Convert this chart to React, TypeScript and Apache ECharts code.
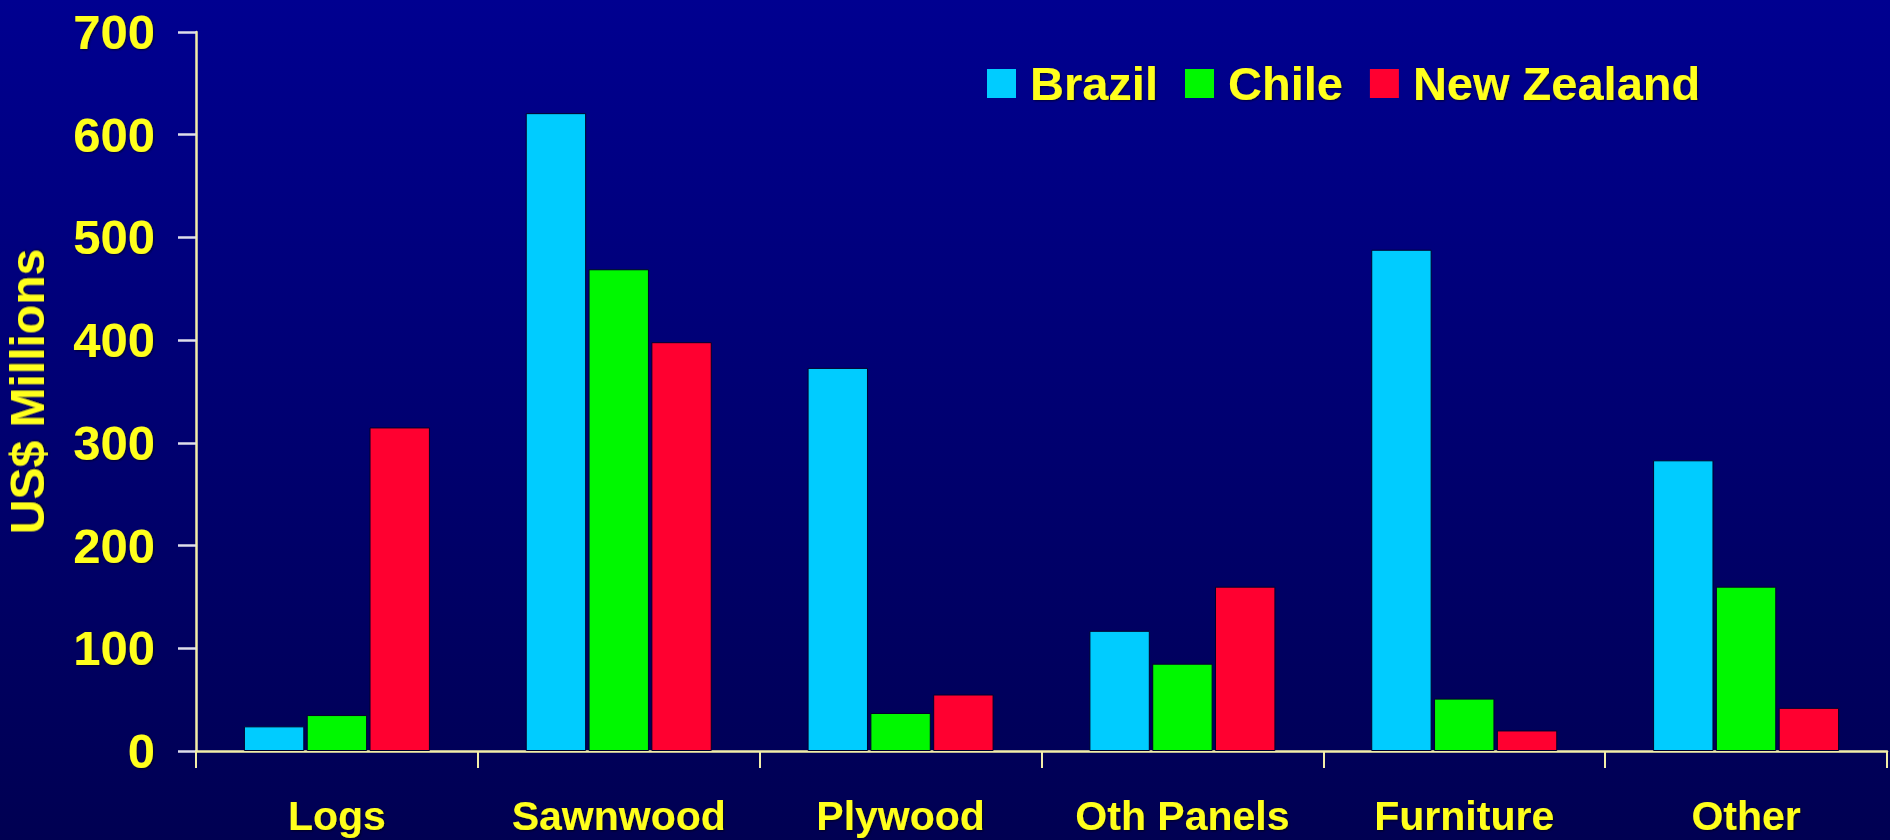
import React, { useEffect, useRef } from "react";
import * as echarts from "echarts";

// Forest product exports by product group, US$ millions
const categories = ["Logs", "Sawnwood", "Plywood", "Oth Panels", "Furniture", "Other"];
const brazil = [24, 621, 373, 117, 488, 283];
const chile = [35, 469, 37, 85, 51, 160];
const newZealand = [315, 398, 55, 160, 20, 42];
const yTicks = { min: 0, max: 700, interval: 100 };

const FONT = "'Liberation Sans', Arial, sans-serif";
const YELLOW = "#ffff1e";
const GRID_WHITE = "#dedeea";
const AXIS_YELLOW = "#f2eea8";

const shadowText = {
  textShadowColor: "rgba(0,0,0,0.6)",
  textShadowBlur: 2,
  textShadowOffsetX: 1,
  textShadowOffsetY: 1,
};

export default function App() {
  const ref = useRef<HTMLDivElement>(null);

  useEffect(() => {
    document.body.style.margin = "0";
    if (!ref.current) return;
    const chart = echarts.init(ref.current, null, { renderer: "svg" });

    const barStyle = (color: string) => ({
      color,
      borderColor: "#00002a",
      borderWidth: 1,
    });

    chart.setOption({
      animation: false,
      backgroundColor: {
        type: "linear",
        x: 0,
        y: 0,
        x2: 0,
        y2: 1,
        colorStops: [
          { offset: 0, color: "#000090" },
          { offset: 1, color: "#000052" },
        ],
      },
      textStyle: { fontFamily: FONT },
      legend: {
        left: 987,
        top: 60,
        padding: 0,
        itemWidth: 29,
        itemHeight: 29,
        itemGap: 27,
        icon: "rect",
        itemStyle: { borderWidth: 0 },
        textStyle: {
          color: YELLOW,
          fontSize: 47,
          fontWeight: "bold",
          fontFamily: FONT,
          padding: [0, 0, 0, 9],
          ...shadowText,
        },
        data: ["Brazil", "Chile", "New Zealand"],
      },
      grid: {
        left: 196,
        right: 3,
        top: 32,
        bottom: 89,
        containLabel: false,
        outerBoundsMode: "none",
      },
      xAxis: {
        type: "category",
        data: categories,
        boundaryGap: true,
        axisLine: { lineStyle: { color: AXIS_YELLOW, width: 2.5 } },
        axisTick: {
          show: true,
          interval: 0,
          length: 17,
          lineStyle: { color: AXIS_YELLOW, width: 2 },
        },
        axisLabel: {
          interval: 0,
          margin: 44,
          color: YELLOW,
          fontSize: 41,
          fontWeight: "bold",
          fontFamily: FONT,
          ...shadowText,
        },
        splitLine: { show: false },
      },
      yAxis: {
        type: "value",
        min: yTicks.min,
        max: yTicks.max,
        interval: yTicks.interval,
        name: "US$ Millions",
        nameLocation: "middle",
        nameGap: 145,
        nameRotate: 90,
        nameTextStyle: {
          color: YELLOW,
          fontSize: 48,
          fontWeight: "bold",
          fontFamily: FONT,
          ...shadowText,
        },
        axisLine: { show: true, lineStyle: { color: AXIS_YELLOW, width: 2.5 } },
        axisTick: {
          show: true,
          length: 18,
          lineStyle: { color: GRID_WHITE, width: 2.5 },
        },
        axisLabel: {
          margin: 41,
          color: YELLOW,
          fontSize: 49,
          fontWeight: "bold",
          fontFamily: FONT,
          ...shadowText,
        },
        splitLine: {
          show: true,
          lineStyle: {
            color: GRID_WHITE,
            width: 2.5,
            shadowColor: "rgba(0,0,0,0.7)",
            shadowBlur: 2,
            shadowOffsetY: 1,
          },
        },
      },
      series: [
        {
          name: "Brazil",
          type: "bar",
          data: brazil,
          itemStyle: barStyle("#00ccff"),
          barGap: "4%",
          barCategoryGap: "34%",
        },
        {
          name: "Chile",
          type: "bar",
          data: chile,
          itemStyle: barStyle("#00f800"),
        },
        {
          name: "New Zealand",
          type: "bar",
          data: newZealand,
          itemStyle: barStyle("#ff0030"),
        },
      ],
    });

    return () => chart.dispose();
  }, []);

  return <div ref={ref} style={{ width: 1890, height: 840 }} />;
}
